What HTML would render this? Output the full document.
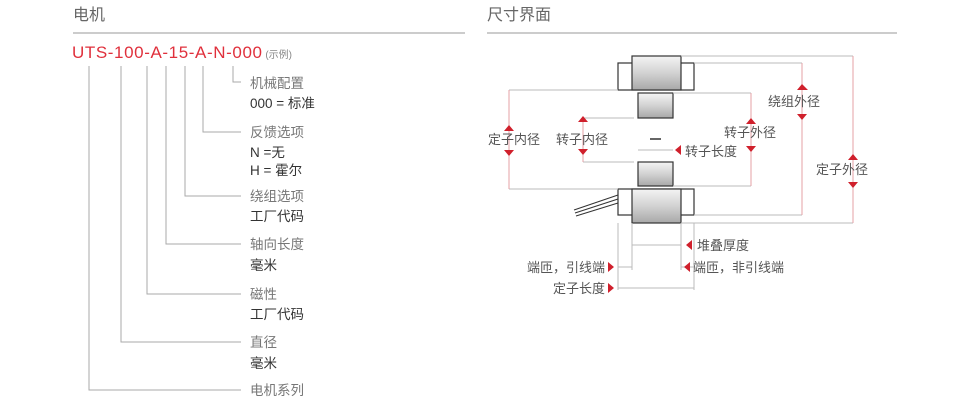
<!DOCTYPE html>
<html><head><meta charset="utf-8"><style>
body{margin:0;background:#fff;width:968px;height:413px;overflow:hidden}
text{font-family:"Liberation Sans","Noto Sans CJK SC",sans-serif}
</style></head><body>
<svg width="968" height="413" viewBox="0 0 968 413">
<defs>
<linearGradient id="g" x1="0" y1="0" x2="0" y2="1"><stop offset="0" stop-color="#f4f4f4"/><stop offset="0.5" stop-color="#d2d2d2"/><stop offset="1" stop-color="#a8a8a8"/></linearGradient>
</defs>
<text x="73" y="20" font-size="16" fill="#666">电机</text>
<line x1="73" y1="33" x2="465" y2="33" stroke="#999"/>
<text x="487" y="20" font-size="16" fill="#666">尺寸界面</text>
<line x1="487" y1="33" x2="897" y2="33" stroke="#999"/>
<text x="72" y="58" font-size="17" letter-spacing="0.6" fill="#e0303c">UTS-100-A-15-A-N-000<tspan font-size="10" letter-spacing="0" fill="#888"> (示例)</tspan></text>
<g stroke="#aaa" fill="none">
<path d="M233 66V82H241M203 66V132H241M185 66V196H241M166 66V244H241M147 66V294H241M121 66V342H241M89 66V390H241"/>
</g>
<g font-size="13.5">
<g fill="#777"><text x="250" y="88">机械配置</text><text x="250" y="137">反馈选项</text><text x="250" y="201">绕组选项</text><text x="250" y="249">轴向长度</text><text x="250" y="299">磁性</text><text x="250" y="347">直径</text><text x="250" y="395">电机系列</text></g>
<g fill="#333"><text x="250" y="108">000 = 标准</text><text x="250" y="157">N =无</text><text x="250" y="175">H = 霍尔</text><text x="250" y="221">工厂代码</text><text x="250" y="270">毫米</text><text x="250" y="319">工厂代码</text><text x="250" y="368">毫米</text></g>
</g>
<g stroke="#333" stroke-width="1.2">
<rect x="618" y="63" width="76" height="27" fill="#fff"/>
<rect x="632" y="56" width="49" height="34" fill="url(#g)"/>
<rect x="638" y="93" width="35" height="25" fill="url(#g)"/>
<rect x="638" y="162" width="35" height="24" fill="url(#g)"/>
<rect x="618" y="189" width="76" height="26" fill="#fff"/>
<rect x="632" y="189" width="49" height="34" fill="url(#g)"/>
</g>
<line x1="650" y1="139" x2="661" y2="139" stroke="#333" stroke-width="1.5"/>
<g stroke="#333" fill="none"><path d="M574 210L618 195M575 213L618 199M576 216L618 203"/></g>
<g stroke="#bbb" fill="none">
<path d="M509 90H618M509 189H618M583 118H634M583 162H634M673 93H751M673 186H751M694 63H802M694 215H802M681 56H853M681 223H853M638 150H673"/>
<path d="M618 223V290M632 223V270M681 223V270M694 223V290M632 245H681M618 267H632M681 267H694M618 288H694"/>
</g>
<g stroke="#e5a0a6" fill="none">
<path d="M509 90V189M583 118V162M751 93V186M802 63V215M853 56V223"/>
</g>
<g fill="#d0202c">
<path d="M504 131L509 125L514 131ZM504 150L509 156L514 150Z"/>
<path d="M578 122L583 116L588 122ZM578 149L583 155L588 149Z"/>
<path d="M746 124L751 118L756 124ZM746 146L751 152L756 146Z"/>
<path d="M797 90L802 84L808 90ZM797 114L802 120L807 114Z"/>
<path d="M848 160L853 154L858 160ZM848 182L853 188L858 182Z"/>
<path d="M681 145L675 150L681 155ZM692 240L686 245L692 250ZM690 262L684 267L690 272Z"/>
<path d="M608 262L614 267L608 272ZM608 283L614 288L608 293Z"/>
</g>
<g font-size="13" fill="#555">
<text x="488" y="144">定子内径</text>
<text x="556" y="144">转子内径</text>
<text x="724" y="137">转子外径</text>
<text x="768" y="106">绕组外径</text>
<text x="816" y="174">定子外径</text>
<text x="685" y="156">转子长度</text>
<text x="697" y="250">堆叠厚度</text>
<text x="605" y="272" text-anchor="end">端匝，引线端</text>
<text x="693" y="272">端匝，非引线端</text>
<text x="605" y="293" text-anchor="end">定子长度</text>
</g>
</svg>
</body></html>
